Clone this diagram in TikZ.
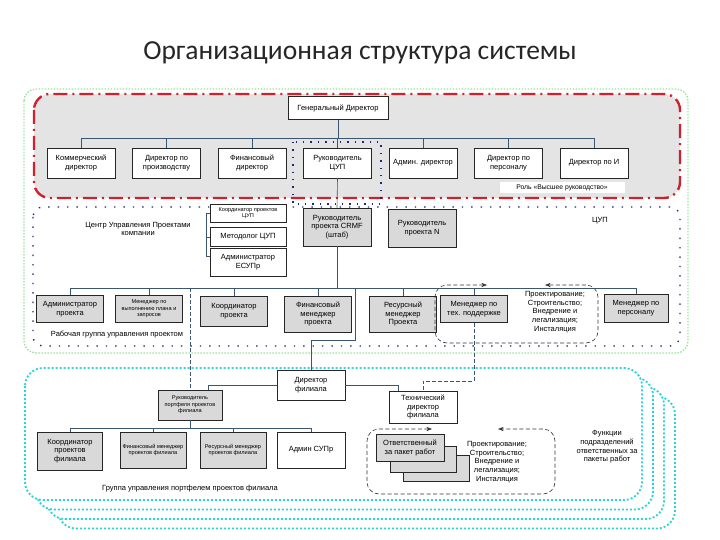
\documentclass[tikz,border=0pt]{standalone}
\usepackage{fontspec}
\setmainfont{Liberation Sans}
\newfontfamily\titlefont{Carlito}
\usepackage{xcolor}
\definecolor{cLine}{HTML}{3A5670}
\definecolor{cBox}{HTML}{D9D9D9}
\definecolor{cTop}{HTML}{E4E4E4}
\definecolor{cRed}{HTML}{D0202E}
\definecolor{cGreen}{HTML}{9BE59B}
\definecolor{cNavy}{HTML}{1C2A6E}
\definecolor{cCyan}{HTML}{2ED3D3}
\usepackage{tikz}
\usetikzlibrary{positioning,arrows.meta}
\newcommand\fsBox{\fontsize{7.5}{8.6}\selectfont}
\newcommand\fsSmall{\fontsize{5.6}{6.6}\selectfont}
\tikzset{
  node-box/.style={draw=black!85,line width=0.5pt,fill=white,align=center,
    font=\fsBox,inner sep=1pt,minimum width=68pt,minimum height=30pt},
  node-gray/.style={fill=cBox},
  node-small/.style={font=\fsSmall},
  node-text/.style={align=center,font=\fsBox,inner sep=1pt},
  conn/.style={draw=cLine,line width=0.6pt},
  conn-dash/.style={conn,dash pattern=on 4pt off 2pt},
  cycle-box/.style={draw=black!80,line width=0.6pt,dash pattern=on 4pt off 2.5pt,
    rounded corners=12pt,{Stealth[length=2mm]}-{Stealth[length=2mm]}},
  region-outer/.style={draw=cGreen,line width=1.4pt,dash pattern=on 1.5pt off 1.5pt,
    rounded corners=12pt},
  region-top/.style={draw=cRed,fill=cTop,line width=2.4pt,
    dash pattern=on 14pt off 5pt on 2pt off 5pt,rounded corners=16pt},
  region-cup/.style={draw=cNavy,line width=1.4pt,dash pattern=on 1.4pt off 8pt,
    rounded corners=10pt},
  region-branch/.style={draw=cCyan,fill=white,line width=1.8pt,
    dash pattern=on 2pt off 2pt,rounded corners=18pt},
}

\begin{document}
\begin{tikzpicture}[x=1pt,y=-1pt]
  \useasboundingbox (0,0) rectangle (720,540);
  \node[font=\titlefont\fontsize{27.5}{32}\selectfont,text=black!85] (title) at (360,53)
    {Организационная структура системы};

  % области
  \draw[region-outer] (24,89) rectangle (688,353);
  \draw[region-top] (34,94) rectangle (680,198);
  \draw[region-cup] (33,207) rectangle (680,346);
  \draw[cNavy,line width=1.4pt,dash pattern=on 1.4pt off 6pt] (293,142) rectangle (381,204);
  \foreach \k in {3,2,1}
    \draw[region-branch,shift={({11*\k},{9.5*\k})}] (25,368) rectangle (642,500);
  \draw[region-branch] (25,368) rectangle (642,500);

  % высшее руководство
  \node[node-box,minimum width=100pt,minimum height=23pt] (gd) at (338,108) {Генеральный Директор};
  \node[node-box] (kd) at (81,163) {Коммерческий\\директор};
  \node[node-box,right=17pt of kd] (dp) {Директор по\\производству};
  \node[node-box,right=17pt of dp] (fd) {Финансовый\\директор};
  \node[node-box,right=17pt of fd] (cup) {Руководитель\\ЦУП};
  \node[node-box,right=17pt of cup] (ad) {Админ. директор};
  \node[node-box,right=17pt of ad] (dpp) {Директор по\\персоналу};
  \node[node-box,right=17pt of dpp] (dit) {Директор по И};
  \node[fill=white,font=\fontsize{6.8}{8}\selectfont,minimum width=125pt,minimum height=11pt,inner sep=1pt]
    (role) at (562,188) {Роль «Высшее руководство»};

  % ЦУП
  \node[node-text] (cuplbl) at (138,229) {Центр Управления Проектами\\компании};
  \node[node-text] (cupname) at (600,221) {ЦУП};
  \node[node-box,node-small,minimum width=76pt,minimum height=18pt] (kc) at (248,213) {Координатор проектов\\ЦУП};
  \node[node-box,minimum width=76pt,minimum height=19pt] (met) at (248,237) {Методолог ЦУП};
  \node[node-box,minimum width=76pt,minimum height=28pt] (adm) at (248,262) {Администратор\\ЕСУПр};
  \node[node-box,node-gray,minimum height=38pt] (crm) at (337,227) {Руководитель\\проекта CRMF\\(штаб)};
  \node[node-box,node-gray,minimum height=38pt] (pn) at (422,228) {Руководитель\\проекта N};

  \node[node-box,node-gray,minimum width=67pt,minimum height=27pt] (ap) at (70,309) {Администратор\\проекта};
  \node[node-box,node-gray,node-small,minimum width=67pt,minimum height=27pt] (mv) at (149,309) {Менеджер по\\выполнению плана и\\запросов};
  \node[node-box,node-gray,minimum width=67pt] (kp) at (234,311) {Координатор\\проекта};
  \node[node-box,node-gray,minimum width=67pt,minimum height=36pt] (fm) at (318,314) {Финансовый\\менеджер\\проекта};
  \node[node-box,node-gray,minimum width=67pt,minimum height=36pt] (rm) at (403,314) {Ресурсный\\менеджер\\Проекта};
  \node[node-box,node-gray,minimum width=67pt,minimum height=27pt] (mt) at (474,309) {Менеджер по\\тех. поддержке};
  \node[node-text] (cyc) at (555,312) {Проектирование;\\Строительство;\\Внедрение и\\легализация;\\Инсталяция};
  \node[node-box,node-gray,minimum width=64pt,minimum height=28pt] (mp) at (636,308) {Менеджер по\\персоналу};
  \node[node-text] (wglbl) at (117,335) {Рабочая группа управления проектом};
  \draw[cycle-box] (487,285) -- (435,285) -- (435,343) -- (598,343) -- (598,285) -- (545,285);

  % филиал
  \node[node-box,minimum height=30pt] (dirf) at (311,385) {Директор\\филиала};
  \node[node-box,node-gray,node-small,minimum width=64pt] (rpf) at (190,405) {Руководитель\\портфеля проектов\\филиала};
  \node[node-box,minimum height=32pt] (tdf) at (423,407) {Технический\\директор\\филиала};
  \node[node-box,node-gray,minimum width=65pt,minimum height=38pt] (kpf) at (70,451) {Координатор\\проектов\\филиала};
  \node[node-box,node-gray,node-small,minimum width=66pt,minimum height=36pt] (fmf) at (153,450) {Финансовый менеджер\\проектов филиала};
  \node[node-box,node-gray,node-small,minimum width=66pt,minimum height=36pt] (rmf) at (233,450) {Ресурсный менеджер\\проектов филиала};
  \node[node-box,minimum height=36pt] (asf) at (311,450) {Админ СУПр};
  \node[node-box,node-gray,minimum width=66pt,minimum height=26pt] (otv3) at (436,468) {};
  \node[node-box,node-gray,minimum width=66pt,minimum height=26pt] (otv2) at (423,459) {};
  \node[node-box,node-gray,minimum width=68pt,minimum height=27pt] (otv) at (410,448) {Ответственный\\за пакет работ};
  \node[node-text] (cyc2) at (497,462) {Проектирование;\\Строительство;\\Внедрение и\\легализация;\\Инсталяция};
  \node[node-text] (func) at (607,447) {Функции\\подразделений\\ответственных за\\пакеты работ};
  \node[node-text] (grlbl) at (190,489) {Группа управления портфелем проектов филиала};
  \draw[cycle-box] (432,429) -- (367,429) -- (367,494) -- (555,494) -- (555,429) -- (498,429);

  % связи
  \coordinate (bar1) at (0,138);
  \coordinate (bar2) at (0,288);
  \coordinate (bar3) at (0,428);
  \draw[conn] (gd.south) -- (gd.south |- bar1);
  \draw[conn] (kd.north) |- (bar1 -| dit.north) -- (dit.north);
  \foreach \n in {dp,fd,cup,ad,dpp}
    \draw[conn] (\n.north) -- (\n.north |- bar1);
  \draw[conn] (cup.south) -- (crm.north);
  \draw[conn] (crm.south) -- (crm.south |- bar2);
  \draw[conn] (kc.west) -- ++(-3,0) |- ([yshift=6pt]adm.west);
  \draw[conn] (met.west) -- ++(-3,0);
  \draw[conn] (ap.north) |- (bar2 -| mp.north) -- (mp.north);
  \foreach \n in {mv,kp,fm,rm,mt}
    \draw[conn] (\n.north) -- (\n.north |- bar2);
  \draw[conn-dash] (bar2 -| rpf.north) -- (rpf.north);
  \coordinate (j1) at (355,340);
  \draw[conn] (j1 |- bar2) -- (j1) -| (dirf.north);
  \coordinate (j3) at (0,381);
  \draw[conn-dash] (mt.south) -- (mt.south |- j3) -| (tdf.north);
  \draw[conn] (dirf.west) -| ([xshift=18pt]rpf.north);
  \draw[conn] (dirf.east) -| ([xshift=-25pt]tdf.north);
  \draw[conn] (rpf.south) -- (rpf.south |- bar3);
  \draw[conn] (kpf.north) |- (bar3 -| asf.north) -- (asf.north);
  \foreach \n in {fmf,rmf}
    \draw[conn] (\n.north) -- (\n.north |- bar3);
\end{tikzpicture}
\end{document}
